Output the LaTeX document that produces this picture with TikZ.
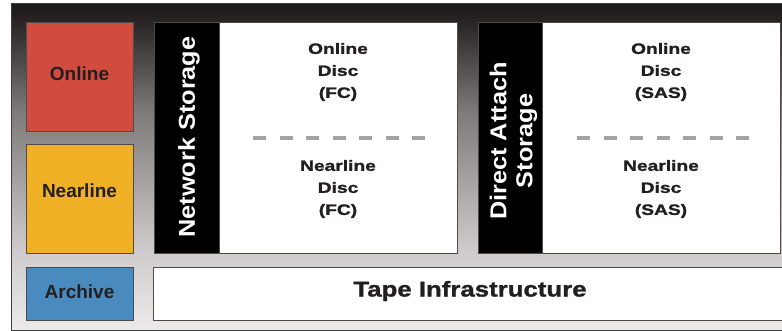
\documentclass[tikz,border=0pt]{standalone}
\usepackage{fontspec}
\setmainfont{Liberation Sans}
\newfontfamily\discfont{Liberation Sans}[FakeStretch=1.28, FakeBold=1.4]
\newfontfamily\barfont{Liberation Sans}[FakeStretch=1.1]
\newfontfamily\tapefont{Liberation Sans}[FakeStretch=1.2, FakeBold=1.2]

\definecolor{onlinered}{HTML}{D14B3F}
\definecolor{nearlineyellow}{HTML}{F0B126}
\definecolor{archiveblue}{HTML}{4A8BBF}
\definecolor{labelgray}{HTML}{231F20}
\definecolor{boxedge}{HTML}{4F4B4B}
\definecolor{dashgray}{HTML}{A3A3A3}
\definecolor{fadeA}{HTML}{1C1818}
\definecolor{fadeB}{HTML}{2B2727}
\definecolor{fadeC}{HTML}{7E7979}
\definecolor{fadeD}{HTML}{CFCBCB}
\definecolor{fadeE}{HTML}{ECEAEA}

\pgfdeclareverticalshading{framefade}{100bp}{color(0bp)=(fadeE); color(25bp)=(fadeE);
  color(37.2bp)=(fadeD); color(58.6bp)=(fadeC); color(71.6bp)=(fadeB);
  color(75bp)=(fadeA); color(100bp)=(fadeA)}

\tikzset{
  panel/.style={draw=boxedge, line width=0.8pt, anchor=north west, inner sep=0pt, outer sep=0pt},
  tiertext/.style={text=labelgray, font=\bfseries\fontsize{19}{22}\selectfont},
  disctext/.style={text=labelgray, align=center, font=\discfont\bfseries\fontsize{15}{22}\selectfont},
  bartext/.style={text=white, align=center, rotate=90, font=\barfont\bfseries\fontsize{23}{26}\selectfont},
  tiersplit/.style={draw=dashgray, line width=4pt, dash pattern=on 13pt off 13.5pt}
}

\begin{document}
\begin{tikzpicture}[x=1pt, y=-1pt]
  % Page and the shaded frame behind everything
  \path[use as bounding box, clip] (0,0) rectangle (782,330);
  \shade[shading=framefade, draw=black!75, line width=0.8pt] (11,3) rectangle (790,330);

  % Tier boxes on the left
  \node[panel, fill=onlinered, minimum width=107pt, minimum height=109pt] (online) at (26,22) {};
  \node[panel, fill=nearlineyellow, minimum width=107pt, minimum height=109pt] (nearline) at (26,144) {};
  \node[panel, fill=archiveblue, minimum width=107pt, minimum height=53pt] (archive) at (26,267) {};
  \node[tiertext] (online-label) at ([yshift=3pt]online.center) {Online};
  \node[tiertext] (nearline-label) at ([yshift=8pt]nearline.center) {Nearline};
  \node[tiertext] (archive-label) at ([yshift=2pt]archive.center) {Archive};

  % Network storage column
  \node[panel, fill=black, minimum width=65pt, minimum height=231pt] (netbar) at (154,22) {};
  \node[panel, fill=white, minimum width=238pt, minimum height=231pt] (netdisc) at (netbar.north east) {};
  \node[bartext] (netbar-label) at (189,137) {Network Storage};

  % Direct attach column
  \node[panel, fill=black, minimum width=64pt, minimum height=231pt] (dasbar) at (478,22) {};
  \node[panel, fill=white, minimum width=238pt, minimum height=231pt] (dasdisc) at (dasbar.north east) {};
  \node[bartext] (dasbar-label) at (513.5,141) {Direct Attach\\Storage};

  % Disc labels above and below the split
  \node[disctext] (net-online) at (netdisc.center |- 0,72) {Online\\Disc\\(FC)};
  \node[disctext] (net-nearline) at (netdisc.center |- 0,189) {Nearline\\Disc\\(FC)};
  \node[disctext] (das-online) at (dasdisc.center |- 0,72) {Online\\Disc\\(SAS)};
  \node[disctext] (das-nearline) at (dasdisc.center |- 0,189) {Nearline\\Disc\\(SAS)};
  \draw[tiersplit] ([xshift=34pt]netdisc.west) -- ([xshift=-32pt]netdisc.east);
  \draw[tiersplit] ([xshift=35pt]dasdisc.west) -- ([xshift=-31pt]dasdisc.east);

  % Tape row along the bottom
  \node[panel, fill=white, minimum width=640pt, minimum height=53pt] (tape) at (153,267) {};
  \node[text=labelgray, font=\tapefont\bfseries\fontsize{21.5}{24}\selectfont] (tape-label) at (470,291) {Tape Infrastructure};
\end{tikzpicture}
\end{document}
